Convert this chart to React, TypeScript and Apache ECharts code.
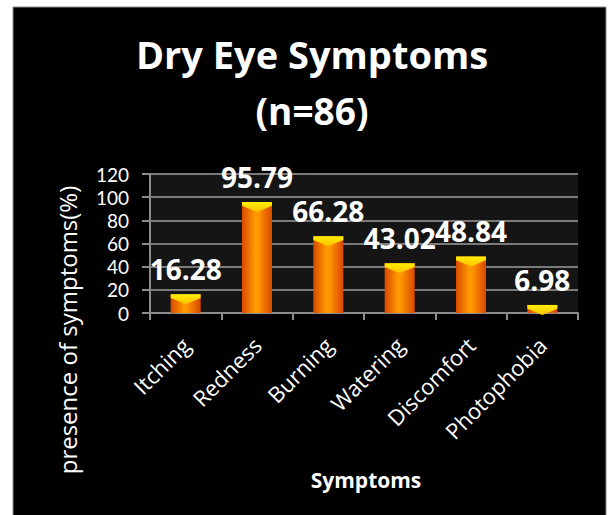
import React, { useEffect, useRef } from "react";
import * as echarts from "echarts";

const categories = ["Itching", "Redness", "Burning", "Watering", "Discomfort", "Photophobia"];
const values = [16.28, 95.79, 66.28, 43.02, 48.84, 6.98];
const yTicks = { min: 0, max: 120, interval: 20 };
const titleLines = ["Dry Eye Symptoms", "(n=86)"];
const yAxisTitle = "presence of symptoms(%)";
const xAxisTitle = "Symptoms";
const captionText = "Chart : Symptoms of Dry Eye";

const FONT = "'Open Sans', Lato, sans-serif";

export default function App() {
  const ref = useRef<HTMLDivElement>(null);
  useEffect(() => {
    if (!ref.current) return;
    const chart = echarts.init(ref.current, undefined, { renderer: "svg" });
    const barGrad = new echarts.graphic.LinearGradient(0, 0, 1, 0, [
      { offset: 0, color: "#d94800" },
      { offset: 0.45, color: "#ff9c00" },
      { offset: 0.55, color: "#ff9400" },
      { offset: 1, color: "#d94800" },
    ]);
    const capGrad = new echarts.graphic.LinearGradient(0, 0, 0, 1, [
      { offset: 0, color: "#fff000" },
      { offset: 1, color: "#ffc000" },
    ]);
    chart.setOption({
      animation: false,
      backgroundColor: "#ffffff",
      graphic: [
        {
          type: "rect",
          z: -10,
          shape: { x: 13, y: 7, width: 593, height: 515 },
          style: { fill: "#000000", stroke: "#8a8a8a", lineWidth: 1 },
        },
        {
          type: "text",
          x: 318,
          y: -19,
          z: -20,
          style: {
            text: captionText,
            fill: "#000",
            font: "bold 18px 'Liberation Serif', 'DejaVu Serif', serif",
            textAlign: "center",
            textVerticalAlign: "top",
          },
        },
        {
          type: "text",
          x: 312,
          y: 35,
          style: {
            text: titleLines[0],
            fill: "#ffffff",
            font: `bold 38px ${FONT}`,
            textAlign: "center",
            textVerticalAlign: "top",
          },
        },
        {
          type: "text",
          x: 312,
          y: 92,
          style: {
            text: titleLines[1],
            fill: "#ffffff",
            font: `bold 37px ${FONT}`,
            textAlign: "center",
            textVerticalAlign: "top",
          },
        },
        {
          type: "text",
          x: 67,
          y: 330,
          rotation: Math.PI / 2,
          style: {
            text: yAxisTitle,
            fill: "#ffffff",
            font: `24px ${FONT}`,
            textAlign: "center",
            textVerticalAlign: "middle",
          },
        },
        {
          type: "text",
          x: 366,
          y: 480,
          style: {
            text: xAxisTitle,
            fill: "#ffffff",
            font: `bold 21px ${FONT}`,
            textAlign: "center",
            textVerticalAlign: "middle",
          },
        },
      ],
      grid: {
        left: 150,
        top: 174,
        width: 428,
        height: 139,
        show: true,
        backgroundColor: "#151515",
        borderWidth: 0,
      },
      xAxis: {
        type: "category",
        data: categories,
        axisLine: { show: true, lineStyle: { color: "#8c8c8c", width: 2 } },
        axisTick: { show: true, length: 7, lineStyle: { color: "#8c8c8c", width: 2 } },
        axisLabel: {
          rotate: 45,
          color: "#ffffff",
          fontSize: 22,
          fontFamily: FONT,
          margin: 28,
          interval: 0,
        },
      },
      yAxis: {
        type: "value",
        min: yTicks.min,
        max: yTicks.max,
        interval: yTicks.interval,
        axisLine: { show: true, lineStyle: { color: "#8c8c8c", width: 2 } },
        axisTick: { show: true, length: 8, lineStyle: { color: "#8c8c8c", width: 2 } },
        splitLine: { show: true, lineStyle: { color: "#7a7a7a", width: 2 } },
        axisLabel: {
          color: "#ffffff",
          fontSize: 19,
          lineHeight: 19,
          fontFamily: "Lato, sans-serif",
          margin: 21,
        },
      },
      series: [
        {
          type: "bar",
          data: values,
          barWidth: 30,
          itemStyle: { color: barGrad },
          label: {
            show: true,
            position: "top",
            distance: 11,
            color: "#ffffff",
            fontSize: 28,
            fontWeight: "bold",
            fontFamily: FONT,
            formatter: (p: any) => p.value.toFixed(2),
          },
          z: 2,
        },
        {
          type: "pictorialBar",
          data: values,
          symbol: "path://M0,0 L10,0 L10,3 L5,8 L0,3 Z",
          symbolSize: [30, 10],
          symbolPosition: "end",
          itemStyle: { color: capGrad },
          z: 3,
          silent: true,
        },
      ],
    });
    return () => chart.dispose();
  }, []);
  return (
    <div
      ref={ref}
      style={{ position: "absolute", left: 0, top: 0, width: 611, height: 515 }}
    />
  );
}
